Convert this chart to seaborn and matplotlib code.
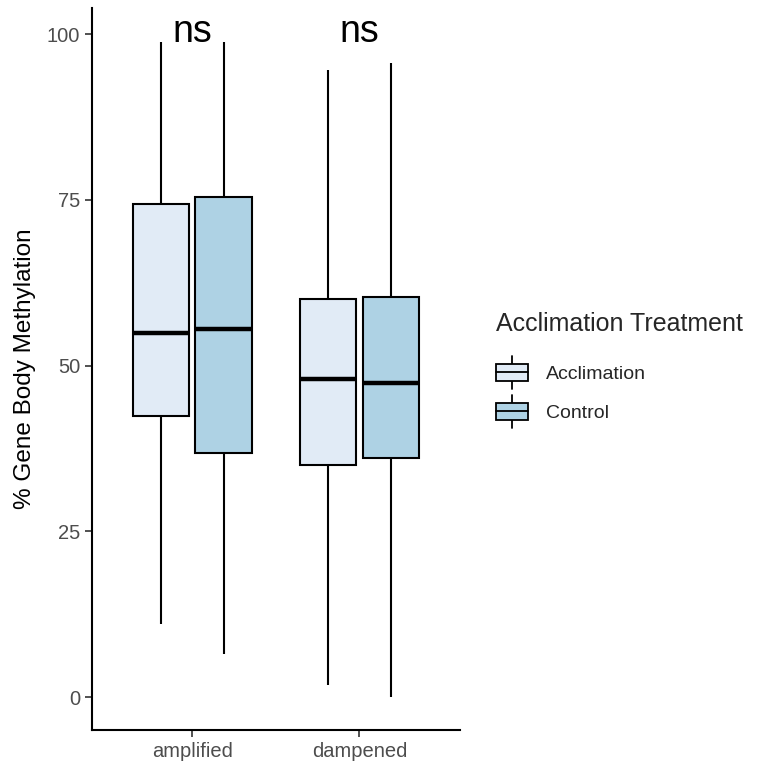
import pandas as pd
import numpy as np
import matplotlib
matplotlib.use("Agg")
import matplotlib.pyplot as plt
from matplotlib.patches import Rectangle, Patch
from matplotlib.lines import Line2D
from matplotlib.legend_handler import HandlerBase
import seaborn as sns

# Five-number summaries (one entry per box)
groups = ["amplified", "amplified", "dampened", "dampened"]
treatments = ["Acclimation", "Control", "Acclimation", "Control"]
mins = [11.0, 6.5, 1.8, 0.0]
q1s = [42.4, 36.8, 35.0, 36.0]
medians = [55.0, 55.5, 48.0, 47.4]
q3s = [74.4, 75.5, 60.0, 60.3]
maxs = [98.8, 98.8, 94.6, 95.6]

group_order = ["amplified", "dampened"]
treatment_order = ["Acclimation", "Control"]
colors = {"Acclimation": "#e1ebf6", "Control": "#aed2e4"}
sig_labels = ["ns", "ns"]

# long table: five points per box give exactly those quartiles
rows = []
for g, t, a, b, c, d, e in zip(groups, treatments, mins, q1s, medians, q3s, maxs):
    for v in (a, b, c, d, e):
        rows.append({"group": g, "treatment": t, "value": v})
df = pd.DataFrame(rows)

sns.set_theme(style="ticks")
plt.rcParams["font.family"] = ["Liberation Sans", "DejaVu Sans"]

fig = plt.figure(figsize=(7.6, 7.65), dpi=100)
ax = fig.add_axes([0.121, 0.0458, 0.484, 0.9437])

sns.boxplot(data=df, x="group", y="value", hue="treatment",
            order=group_order, hue_order=treatment_order,
            palette=colors, saturation=1, whis=(0, 100), width=0.75, gap=0.1,
            linecolor="black", linewidth=1.5, showcaps=False, fliersize=0,
            medianprops=dict(linewidth=3.2, color="black"),
            whiskerprops=dict(linewidth=1.5), ax=ax)

# significance labels
top = max(maxs)
for i, lab in enumerate(sig_labels):
    ax.text(i, top, lab, ha="center", va="baseline", fontsize=27, color="black")

ax.set_xlim(-0.6, 1.6)
ax.set_ylim(-4.95, 103.95)
ax.set_yticks([0, 25, 50, 75, 100])
ax.set_xlabel("")
ax.set_ylabel("% Gene Body Methylation", fontsize=17.5, color="black", labelpad=8)
ax.tick_params(axis="both", labelsize=14.5, labelcolor="#4d4d4d",
               color="#333333", width=1.2, length=5)
for s in ["top", "right"]:
    ax.spines[s].set_visible(False)
for s in ["left", "bottom"]:
    ax.spines[s].set_linewidth(1.5)
    ax.spines[s].set_color("black")

if ax.legend_ is not None:
    ax.legend_.remove()


class BoxKey(HandlerBase):
    def create_artists(self, legend, orig_handle, xdescent, ydescent,
                       width, height, fontsize, trans):
        x0, y0 = -xdescent, -ydescent
        bw, bh = width, height * 0.62
        by = y0 + (height - bh) / 2
        xm = x0 + width / 2
        rect = Rectangle((x0, by), bw, bh, facecolor=orig_handle.get_facecolor(),
                         edgecolor="black", linewidth=1.3, transform=trans)
        med = Line2D([x0, x0 + bw], [y0 + height / 2] * 2, color="black",
                     linewidth=1.3, transform=trans)
        w1 = Line2D([xm, xm], [y0 - height * 0.08, by], color="black",
                    linewidth=1.3, transform=trans)
        w2 = Line2D([xm, xm], [by + bh, y0 + height * 1.08], color="black",
                    linewidth=1.3, transform=trans)
        return [w1, w2, rect, med]


handles = [Patch(facecolor=colors[t], edgecolor="black") for t in treatment_order]
leg = fig.legend(handles, treatment_order, title="Acclimation Treatment",
                 loc="center left", bbox_to_anchor=(0.630, 0.518),
                 frameon=False, fontsize=14, title_fontsize=18,
                 handlelength=1.65, handleheight=1.85, labelspacing=0.55,
                 handletextpad=0.9, handler_map={Patch: BoxKey()})
leg._legend_box.align = "left"
leg._legend_box.sep = 16

fig.savefig("out.png", dpi=100)
